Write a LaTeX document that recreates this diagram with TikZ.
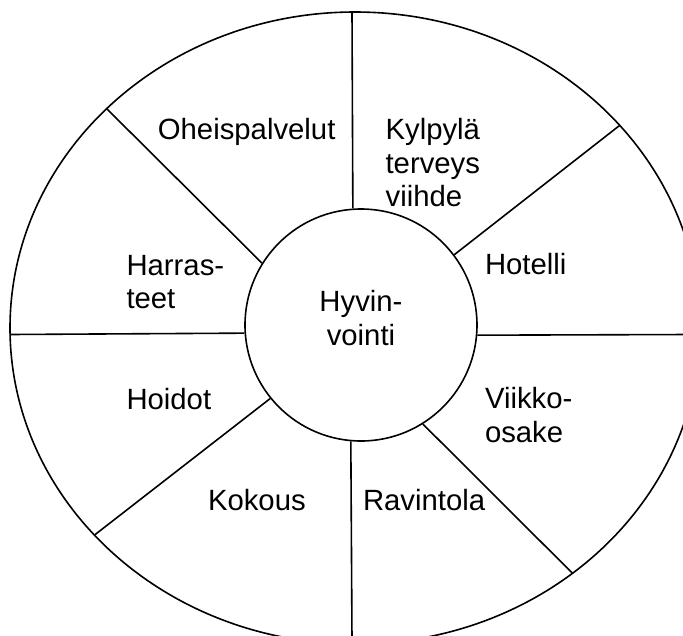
\documentclass[tikz,border=0pt]{standalone}
\usepackage{fontspec}
\setmainfont{Liberation Sans}
\begin{document}
\begin{tikzpicture}[x=1pt,y=-1pt,
  spoke/.style={line width=1.6pt},
  lbl/.style={anchor=base west,inner sep=0pt,align=left,font=\fontsize{29.3}{33.5}\selectfont}]
\useasboundingbox (0,0) rectangle (683,635);
\clip (0,0) rectangle (683,635);

\draw[spoke] (355,328) ellipse [x radius=345, y radius=316];
\node[circle,draw,line width=1.6pt,minimum size=232pt,inner sep=0pt] (hub) at (361,325) {};

\coordinate (up) at (352,12);
\coordinate (ur) at (619.8,125.3);
\coordinate (rt) at (690,334.5);
\coordinate (lr) at (572.5,573.3);
\coordinate (dn) at (352,640);
\coordinate (ll) at (94.3,535.2);
\coordinate (lt) at (10,334.5);
\coordinate (ul) at (106.7,108.7);

\draw[spoke] (hub.94.45) -- (up);
\draw[spoke] (hub.37.1) -- (ur);
\draw[spoke] (hub.355.3) -- (rt);
\draw[spoke] (hub.302.6) -- (lr);
\draw[spoke] (hub.265.55) -- (dn);
\draw[spoke] (hub.219.1) -- (ll);
\draw[spoke] (hub.184.7) -- (lt);
\draw[spoke] (hub.148.25) -- (ul);

% multi-line labels sit on the baseline of their last line
\node[lbl,anchor=base,align=center] (hyv) at (361,345.1) {Hyvin-\\vointi};
\node[lbl] (ohe) at (157.7,139.7) {Oheispalvelut};
\node[lbl] (kyl) at (385.4,206.6) {Kylpylä\\terveys\\viihde};
\node[lbl] (hot) at (484.8,274.6) {Hotelli};
\node[lbl] (har) at (126.3,308.6) {Harras-\\teet};
\node[lbl] (hoi) at (126.3,409.1) {Hoidot};
\node[lbl] (vii) at (484.8,442.3) {Viikko-\\osake};
\node[lbl] (kok) at (207.8,510.3) {Kokous};
\node[lbl] (rav) at (362.8,510.3) {Ravintola};
\end{tikzpicture}
\end{document}
